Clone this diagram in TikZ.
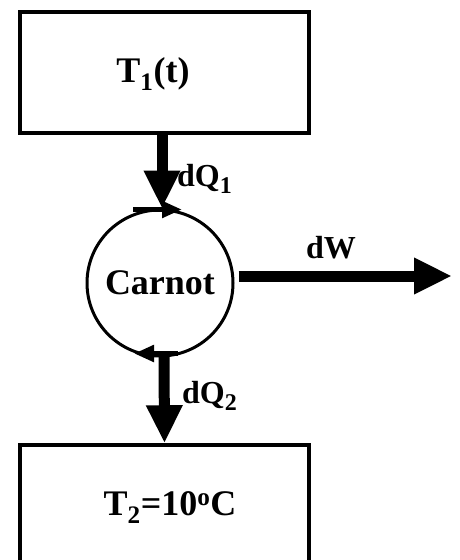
\documentclass[tikz,border=0pt]{standalone}
\usepackage{fontspec}
\setmainfont{Liberation Serif}
\usetikzlibrary{arrows.meta}
\newcommand{\mysub}[1]{\raisebox{-0.22em}{\fontsize{24}{26}\selectfont #1}}
\begin{document}
\begin{tikzpicture}[x=1pt,y=-1pt,
  box/.style={draw, line width=3.5pt, minimum width=289pt, inner sep=0pt},
  bigtext/.style={font=\fontsize{36}{40}\selectfont\bfseries, inner sep=0pt},
  labtext/.style={font=\fontsize{32}{36}\selectfont\bfseries, inner sep=0pt},
  heatflow/.style={line width=11pt, -{Triangle[length=38pt,width=34pt]}},
  cycarrow/.style={line width=5pt, -{Triangle[length=20pt,width=16pt]}}
]
\useasboundingbox (0,0) rectangle (460,560);
\clip (0,0) rectangle (460,560);
\node[box, minimum height=121pt] (hot) at (164.5,72.5) {};
\node[box, minimum height=160pt] (cold) at (164.5,525) {};
\node[circle, draw, line width=3pt, minimum size=146pt, inner sep=0pt,
      bigtext] (eng) at (160,283) {Carnot};
\node[bigtext, anchor=base] (t1) at (153,82) {T\textsubscript{1}(t)};
\node[bigtext, anchor=base] (t2) at (170,515) {T\textsubscript{2}=10\textsuperscript{o}C};
\coordinate (wout) at (452,276);
% heat and work flows
\draw[heatflow] ([xshift=-2.5pt]hot.south) -- ([xshift=2pt]eng.north);
\draw[heatflow] ([xshift=4pt,yshift=4pt]eng.south) -- (cold.north);
\draw[heatflow] ([xshift=4pt,yshift=7pt]eng.east) -- (wout);
% cycle direction arrows
\draw[cycarrow] ([xshift=-27pt,yshift=-1pt]eng.north) -- ([xshift=22pt,yshift=-1pt]eng.north);
\draw[cycarrow] ([xshift=18pt,yshift=4pt]eng.south) -- ([xshift=-26pt,yshift=4pt]eng.south);
% labels
\node[labtext, anchor=base west] (q1) at (177,186) {dQ\mysub{1}};
\node[labtext, anchor=base west] (q2) at (182,403) {dQ\mysub{2}};
\node[labtext, anchor=base] (w) at (331,258) {dW};
\end{tikzpicture}
\end{document}
